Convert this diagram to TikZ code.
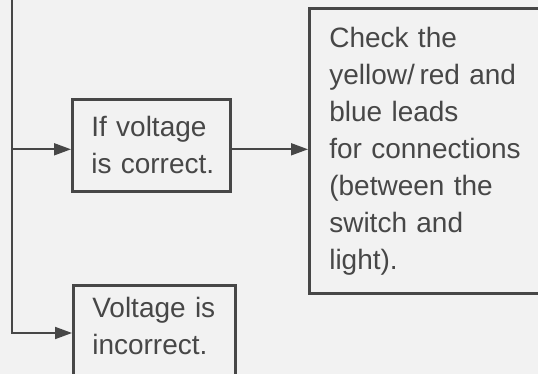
\documentclass[tikz,border=0pt]{standalone}
\usepackage{fontspec}
\setmainfont{Liberation Sans}
\usetikzlibrary{positioning, arrows.meta}
\definecolor{ink}{gray}{0.28}
\definecolor{paper}{gray}{0.95}
\tikzset{
    stepbox/.style={draw=ink, line width=2.6pt, text=ink, anchor=north west,
        align=left, inner xsep=19pt, font=\fontsize{28}{37}\selectfont},
    lead/.style={draw=ink, line width=1.8pt,
        -{Triangle[length=17pt, width=12pt]}}
}
\begin{document}
\begin{tikzpicture}[x=1pt, y=1pt]

    % ;- page ;-
    \useasboundingbox (0,0) rectangle (538,-374);
    \fill[paper] (0,0) rectangle (538,-374);
    \clip (0,0) rectangle (538,-374);

    % ;- boxes ;-
    \node[stepbox, minimum width=158pt, minimum height=92pt, text width=120pt]
        (correct) at (71,-98) {\mbox{If voltage}\\\mbox{is correct.}};
    \node[stepbox, minimum width=262pt, minimum height=285pt, text width=222pt]
        (check) at (308,-7) {Check the\\yellow/\,red and\\blue leads\\for connections\\(between the\\switch and\\light).};
    % bottom edge runs off the page
    \node[stepbox, minimum width=162pt, text width=124pt, inner ysep=12pt]
        (wrong) at (72,-284) {\mbox{Voltage is}\\\mbox{incorrect.}\\\mbox{}};

    % ;- leads ;-
    \coordinate (feed) at (12,0);
    \coordinate (in1) at ([yshift=-4pt]correct.west);
    \coordinate (out1) at ([yshift=-4pt]correct.east);
    \coordinate (in3) at ([yshift=-49pt]wrong.north west);
    \draw[lead] (feed) |- (in3);
    \draw[lead] (feed |- in1) -- (in1);
    \draw[lead] (out1) -- (out1 -| check.west);

\end{tikzpicture}
\end{document}
